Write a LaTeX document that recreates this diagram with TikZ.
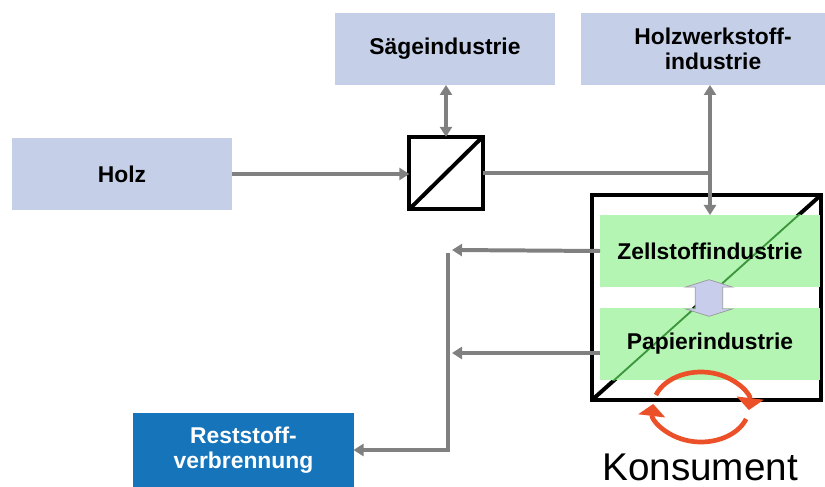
\documentclass[tikz,border=0pt]{standalone}
\usepackage{fontspec}
\setsansfont{Liberation Sans}
\usepackage{xcolor}
\usetikzlibrary{arrows.meta, positioning, shapes.arrows, calc}

\definecolor{hellblau}{RGB}{197,208,232}
\definecolor{dunkelblau}{RGB}{22,116,186}
\definecolor{hellgruen}{RGB}{180,245,180}
\definecolor{diaggruen}{RGB}{60,150,60}
\definecolor{pfeilgrau}{RGB}{128,128,128}
\definecolor{pfeilblau}{RGB}{200,205,235}
\definecolor{kreisrot}{RGB}{235,80,40}

\begin{document}
\begin{tikzpicture}[x=0.03cm, y=-0.03cm,
    box/.style={rectangle, fill=#1, minimum width=6.6cm, minimum height=2.16cm, inner sep=0pt, outer sep=0pt, align=center, font=\fontsize{19.5}{21.5}\selectfont\sffamily\bfseries},
    box/.default={hellblau},
    gruenbox/.style={box=hellgruen, path picture={\draw[line width=1.6pt, diaggruen] (kreis.south west) -- (kreis.north east);}},
    rahmen/.style={rectangle, draw=black, line width=3.4pt, fill=white, inner sep=0pt, outer sep=0pt},
    conn/.style={-{Triangle[length=3mm, width=3.6mm]}, line width=3.4pt, draw=#1},
    conn/.default={pfeilgrau},
    biconn/.style={{Triangle[length=3mm, width=3.6mm]}-{Triangle[length=3mm, width=3.6mm]}, line width=3.4pt, draw=#1},
    biconn/.default={pfeilgrau},
    kreislauf/.style={-{Triangle[length=3.6mm, width=8mm]}, line width=4pt, draw=kreisrot}
]
\useasboundingbox (0,0) rectangle (825,487);
\clip (0,0) rectangle (825,487);

% === ROHSTOFF UND SAEGEWERK ===
\node[box] (holz) at (122,174) {Holz};
\node[box] (saege) at (445,49) {Sägeindustrie};
\node[box, minimum width=7.92cm] (hws) at (713,49) {Holzwerkstoff-\\industrie};
\node[rahmen, minimum width=2.2cm, minimum height=2.17cm] (teiler) at (446,173) {};
\draw[line width=3.4pt] (teiler.south west) -- (teiler.north east);

% === ZELLSTOFF UND PAPIER ===
\node[rahmen, minimum width=6.87cm, minimum height=6.15cm] (kreis) at (706.5,297.5) {};
\draw[line width=3.4pt] (kreis.south west) -- (kreis.north east);
\node[gruenbox] (zell) at (710,251) {Zellstoffindustrie};
\node[gruenbox] (papier) at (710,344) {Papierindustrie};
\node[double arrow, draw=gray!80, fill=pfeilblau, line width=0.6pt, rotate=90, minimum height=1.1cm, double arrow head extend=0.3cm, double arrow tip angle=145, inner xsep=0pt, inner ysep=0.4cm] (wechsel) at (709,298) {};

% === RESTSTOFF UND KONSUMENT ===
\node[box=dunkelblau, text=white, minimum height=2.22cm] (rest) at (243.5,450) {Reststoff-\\verbrennung};
\node[font=\fontsize{33}{33}\selectfont\sffamily, inner sep=0pt] (konsument) at (700,467) {Konsument};

% === HILFSPUNKTE ===
\coordinate (knoten) at (710,173);
\coordinate (zellpfeil) at (452,250);
\coordinate (papierpfeil) at (452,353);
\coordinate (sammel) at (448,253);
\coordinate (kreismitte) at (701,407);

% === VERBINDUNGEN ===
\draw[conn] (holz.east) -- (holz.east -| teiler.west);
\draw[biconn] (saege.south -| teiler.north) -- (teiler.north);
\draw[pfeilgrau, line width=3.4pt] (teiler.east) -- (knoten);
\draw[biconn] (hws.south -| knoten) -- (zell.north -| knoten);
\draw[conn] (zell.west) -- (zellpfeil);
\draw[conn] (papier.west |- papierpfeil) -- (papierpfeil);
\draw[conn] (sammel) |- (rest.east);

% === KREISLAUF ===
\draw[kreislauf] ([shift={(-160:48 and 35)}]kreismitte) arc[start angle=-160, end angle=5, x radius=48, y radius=35];
\draw[kreislauf] ([shift={(20:48 and 35)}]kreismitte) arc[start angle=20, end angle=185, x radius=48, y radius=35];

\end{tikzpicture}
\end{document}
